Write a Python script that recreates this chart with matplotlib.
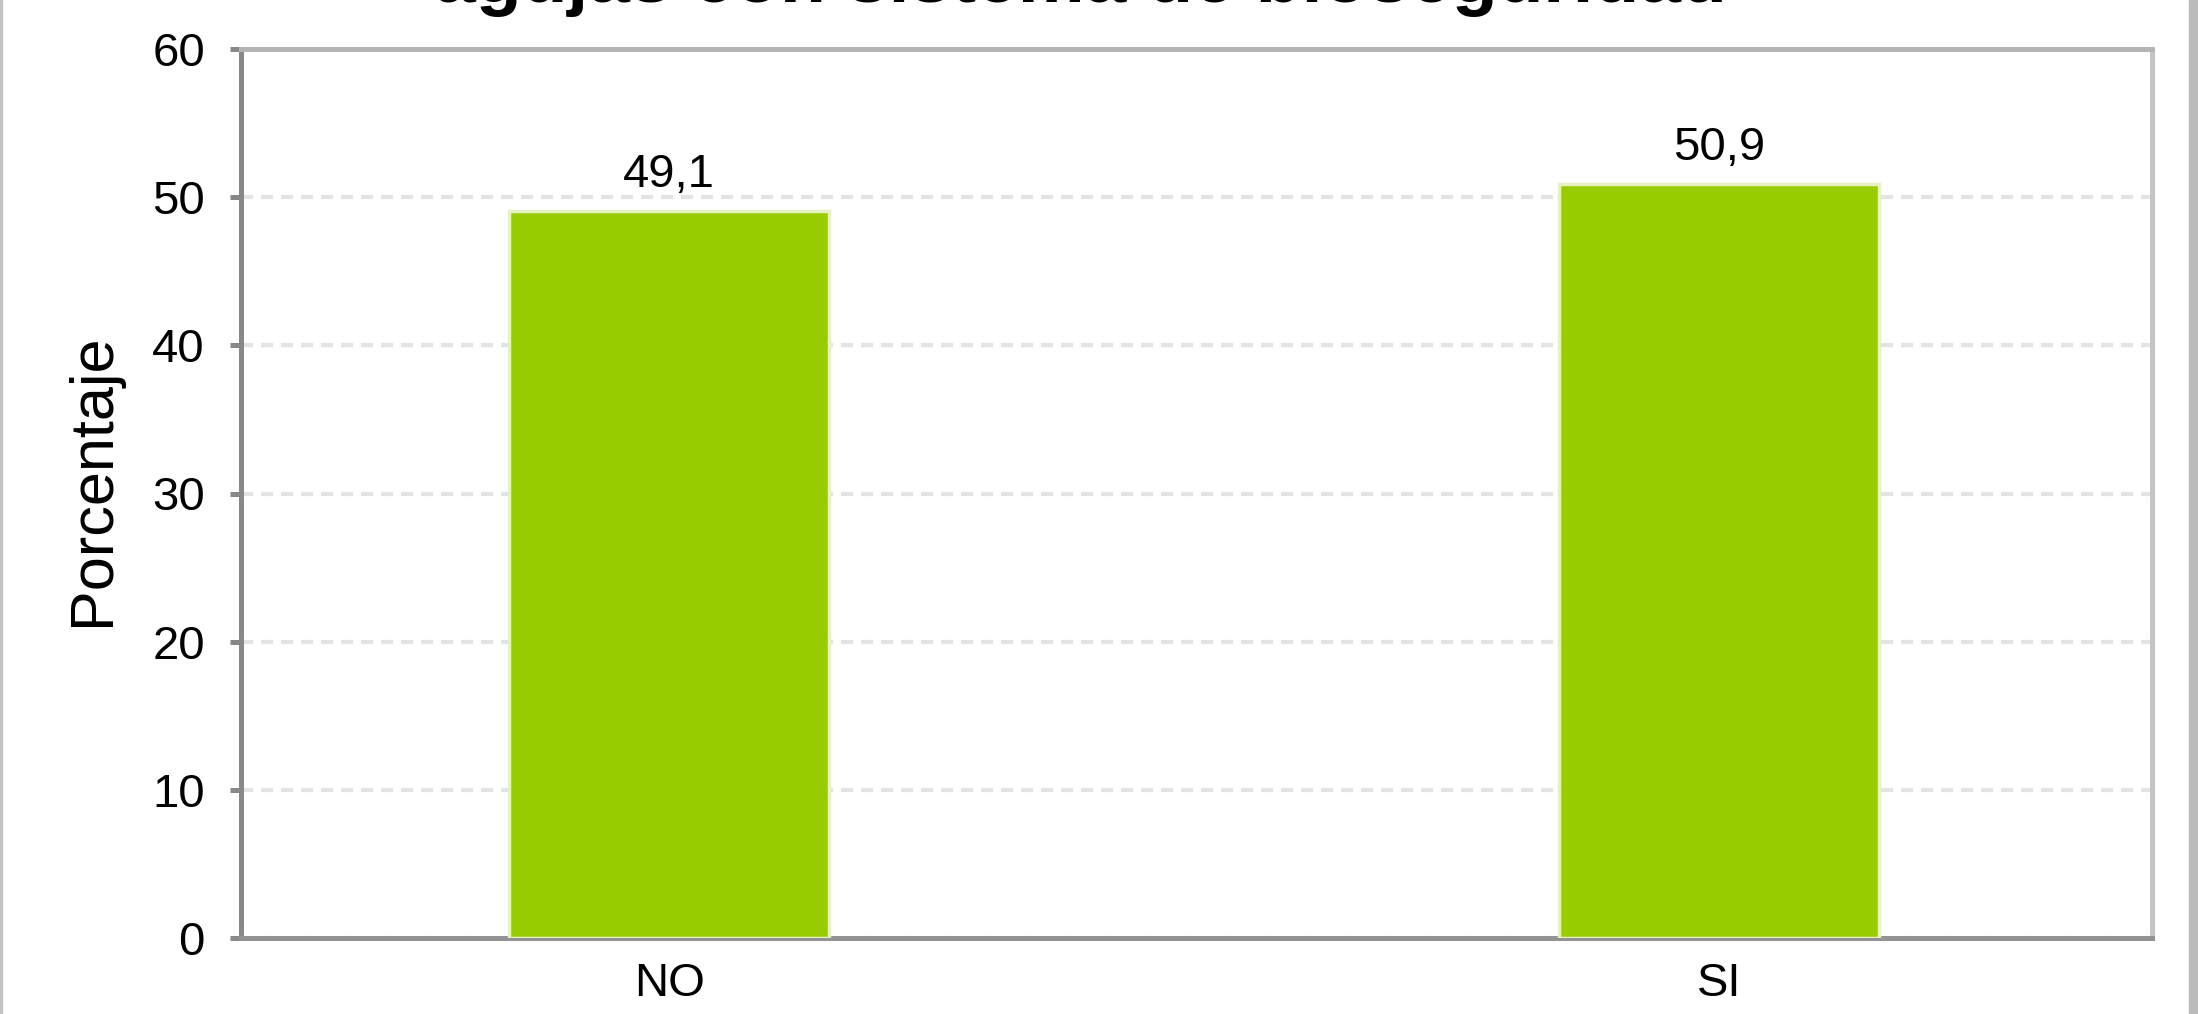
import matplotlib
matplotlib.use("Agg")
import matplotlib.pyplot as plt
from matplotlib.patches import Rectangle

categories = ["NO", "SI"]
values = [49.1, 50.9]
yticks = [0, 10, 20, 30, 40, 50, 60]
title = "agujas con sistema de bioseguridad"
ylabel = "Porcentaje"

plt.rcParams['font.family'] = ['Liberation Sans', 'DejaVu Sans']

W, H = 2198, 1014
fig = plt.figure(figsize=(W / 100, H / 100), dpi=100)
fig.patch.set_facecolor('white')

ax_l, ax_r, ax_t, ax_b = 241, 2152, 49, 938
ax = fig.add_axes([ax_l / W, 1 - ax_b / H, (ax_r - ax_l) / W, (ax_b - ax_t) / H])

x = list(range(len(categories)))
bars = ax.bar(x, values, width=0.305, color='#99cc00', edgecolor='#e6f1c4', linewidth=2.5, zorder=3)

for xi, v in zip(x, values):
    ax.annotate(f"{v:.1f}".replace('.', ','), xy=(xi, v), xytext=(0, 17),
                textcoords='offset points', ha='center', va='baseline',
                fontsize=34, color='black', zorder=4)

ax.set_xlim(-0.4076, 1.412)
ax.set_ylim(0, 60)
ax.set_yticks(yticks)
ax.set_yticklabels([str(t) for t in yticks], fontsize=34)
ax.set_xticks(x)
ax.set_xticklabels(categories, fontsize=34)
ax.tick_params(axis='x', length=0, pad=17)
ax.tick_params(axis='y', length=8, width=3.6, color='#888888', pad=18, direction='out')

ax.set_axisbelow(True)
ax.yaxis.grid(True, color='#e4e4e4', linewidth=3.0, linestyle=(0, (2.9, 1.9)))
ax.xaxis.grid(False)

for side, col in [('left', '#888888'), ('bottom', '#939393'), ('top', '#b4b4b4'), ('right', '#c4c4c4')]:
    ax.spines[side].set_color(col)
    ax.spines[side].set_linewidth(3.6)

ax.set_ylabel(ylabel, fontsize=44)
ax.yaxis.set_label_coords(-0.0623, 0.515)

fig.text(1080 / W, 1 - 2 / H, title, ha='center', va='baseline', fontsize=54, fontweight='bold')

# figure borders
fig.patches.append(Rectangle((0, 0), 2 / W, 1, transform=fig.transFigure, color='#c4c4c4', zorder=0))
fig.patches.append(Rectangle((2189 / W, 0), 9 / W, 1, transform=fig.transFigure, color='#bbbbbb', zorder=0))

fig.savefig('out.png', dpi=100, facecolor='white')
